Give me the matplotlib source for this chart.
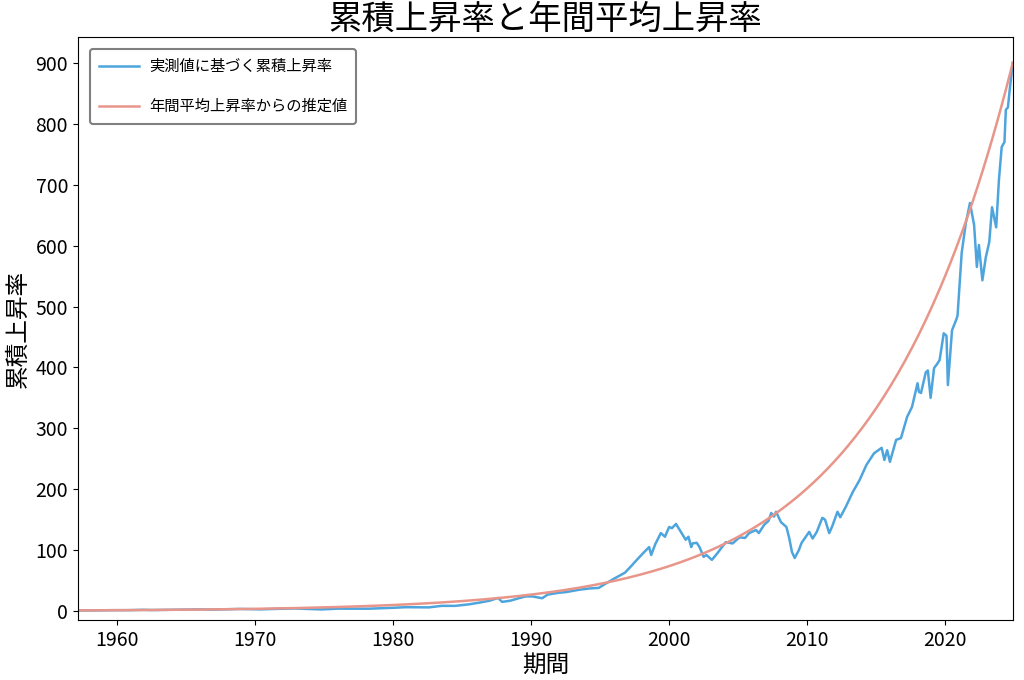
import matplotlib
matplotlib.use("Agg")
import matplotlib.pyplot as plt
import numpy as np

plt.rcParams['font.family'] = ['Noto Sans CJK JP', 'DejaVu Sans']

# ---- data ----
years_actual = [
    1957.2, 1957.8, 1959.6, 1960.8, 1961.9, 1962.5, 1964.5, 1966.1, 1966.8, 1968.9,
    1970.4, 1971.5, 1972.9, 1974.8, 1976.0, 1978.2, 1979.5,
    1980.2, 1980.9, 1982.6, 1983.5, 1984.5, 1985.5, 1986.3, 1987.0, 1987.6, 1987.9,
    1988.5, 1989.1, 1989.6, 1990.1, 1990.8, 1991.2, 1992.0, 1992.5, 1993.5, 1994.2, 1994.9,
    1995.4, 1996.0, 1996.4, 1996.8, 1997.3, 1997.7, 1998.2, 1998.55, 1998.7, 1999.0,
    1999.4, 1999.7, 2000.0, 2000.2, 2000.5, 2000.9, 2001.2, 2001.4, 2001.6, 2001.7,
    2002.0, 2002.2, 2002.5, 2002.7, 2003.1, 2003.5, 2003.8, 2004.1, 2004.6, 2005.1,
    2005.5, 2005.8,
    2006.3, 2006.5, 2006.9, 2007.2, 2007.4, 2007.6, 2007.75, 2008.1, 2008.5, 2008.7,
    2008.9, 2009.1, 2009.4, 2009.6, 2010.15, 2010.4, 2010.7, 2011.1, 2011.3, 2011.6,
    2011.8, 2012.2, 2012.4, 2012.8, 2013.3, 2013.8,
    2014.3, 2014.85, 2015.4, 2015.6, 2015.8, 2016.0, 2016.45, 2016.8, 2017.25, 2017.6,
    2018.0, 2018.1, 2018.25, 2018.6, 2018.75, 2018.95, 2019.2, 2019.4, 2019.6, 2019.9,
    2020.1, 2020.2, 2020.5, 2020.8, 2020.9, 2021.2, 2021.5, 2021.8, 2022.1, 2022.3,
    2022.45, 2022.7, 2022.95, 2023.2, 2023.4, 2023.7, 2023.9, 2024.1, 2024.3, 2024.4,
    2024.55, 2024.7, 2024.9,
]
values_actual = [
    1.0, 0.9, 1.4, 1.4, 2.0, 1.6, 2.3, 2.7, 2.3, 3.4,
    2.7, 3.5, 4.2, 2.6, 3.9, 3.8, 4.8,
    5.5, 6.3, 6.0, 8.5, 8.5, 11.0, 14.0, 17.0, 21.5, 15.0,
    17.0, 21.0, 24.0, 24.0, 21.0, 27.0, 30.0, 31.0, 35.0, 37.0, 38.0,
    45, 53, 58, 63, 75, 85, 97, 105, 92, 110,
    128, 122, 138, 136, 143, 128, 117, 122, 105, 111,
    112, 105, 89, 92, 84, 95, 104, 113, 111, 121,
    120, 128,
    133, 128, 142, 148, 161, 155, 163, 146, 138, 120,
    97, 87, 100, 112, 130, 119, 130, 153, 150, 128,
    138, 163, 154, 171, 195, 215,
    240, 259, 268, 248, 264, 245, 281, 284, 319, 335,
    374, 360, 358, 392, 395, 350, 399, 405, 412, 456,
    452, 371, 461, 478, 485, 588, 637, 670, 634, 565,
    601, 543, 581, 606, 663, 630, 708, 762, 770, 823,
    827, 860, 900,
]

start_year = 1957.2
end_year = 2024.9
annual_rate = 0.1057  # 年間平均上昇率

label_actual = '実測値に基づく累積上昇率'
label_est = '年間平均上昇率からの推定値'

# ---- plot ----
fig = plt.figure(figsize=(10.24, 6.8), dpi=100)
ax = fig.add_axes([0.076, 0.088, 0.913, 0.858])

est_years = np.linspace(start_year, end_year, 400)
est_values = (1 + annual_rate) ** (est_years - start_year)

ax.plot(years_actual, values_actual, color='#4ea5de', lw=1.8, label=label_actual)
ax.plot(est_years, est_values, color='#e8958a', lw=1.8, label=label_est)

ax.set_xlim(start_year - 0.05, end_year)
ax.set_ylim(-15, 943)
ax.set_xticks([1960, 1970, 1980, 1990, 2000, 2010, 2020])
ax.set_yticks(range(0, 901, 100))
ax.tick_params(labelsize=14)

ax.set_title('累積上昇率と年間平均上昇率', fontsize=24, pad=4)
ax.set_xlabel('期間', fontsize=17, labelpad=2)
ax.set_ylabel('累積上昇率', fontsize=17, labelpad=4)

leg = ax.legend(loc='upper left', fontsize=11, labelspacing=1.5, borderpad=0.6,
                handlelength=2.6, handletextpad=0.65, borderaxespad=0.8,
                framealpha=1, edgecolor='gray', fancybox=True)
leg.get_frame().set_linewidth(1.5)

fig.savefig('out.png', dpi=100)
